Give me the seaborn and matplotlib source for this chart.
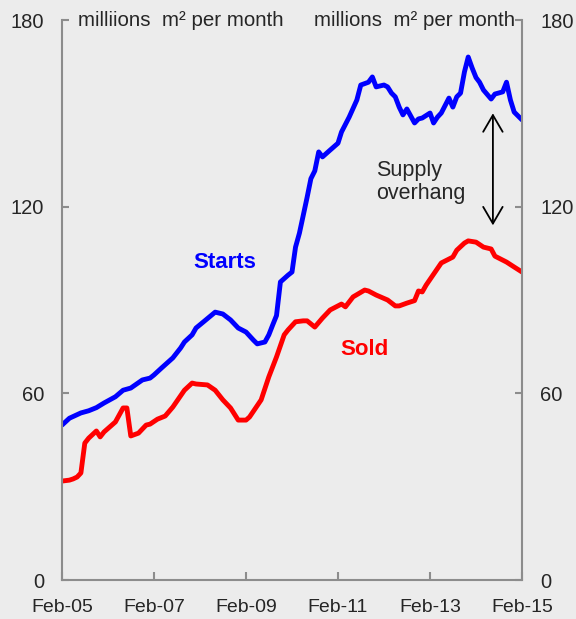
import pandas as pd
import matplotlib.pyplot as plt
import seaborn as sns

# Floor space: starts vs sold (millions m2 per month)
starts_dates = ["2005-02", "2005-04", "2005-07", "2005-09", "2005-11", "2006-01", "2006-04",
                "2006-06", "2006-08", "2006-11", "2007-01", "2007-02", "2007-04", "2007-07",
                "2007-09", "2007-10", "2007-12", "2008-01", "2008-03", "2008-06", "2008-08",
                "2008-10", "2008-12", "2009-02", "2009-04", "2009-05", "2009-07", "2009-08",
                "2009-09", "2009-10", "2009-11", "2010-01", "2010-02", "2010-03", "2010-04",
                "2010-06", "2010-07", "2010-08", "2010-09", "2010-10", "2010-12", "2011-02",
                "2011-03", "2011-05", "2011-07", "2011-08", "2011-10", "2011-11", "2011-12",
                "2012-02", "2012-03", "2012-04", "2012-05", "2012-06", "2012-07", "2012-08",
                "2012-10", "2012-11", "2012-12", "2013-02", "2013-03", "2013-04", "2013-05",
                "2013-07", "2013-08", "2013-09", "2013-10", "2013-11", "2013-12", "2014-01",
                "2014-02", "2014-03", "2014-04", "2014-06", "2014-07", "2014-09", "2014-10",
                "2014-11", "2014-12", "2015-02"]
starts = [49.8, 52, 53.7, 54.4, 55.4, 56.9, 58.9,
          61, 61.7, 64.3, 64.9, 65.9, 68.1, 71.4,
          74.6, 76.5, 78.8, 81, 83, 86.1, 85.5,
          83.6, 81, 79.7, 77.1, 75.9, 76.5, 78.8,
          82, 85, 95.8, 98, 99, 107, 111.5,
          123, 129, 131.5, 137.6, 136, 138.2, 140.4,
          144, 148.8, 154.3, 159.1, 160, 161.7, 158.5,
          159.1, 158.5, 156.5, 155.3, 152, 149.5, 151.4,
          146.9, 148.2, 148.5, 150.1, 146.9, 148.8, 150.1,
          154.9, 152, 155.3, 156.5, 163.3, 168.1, 164.6,
          161.5, 160, 157.5, 154.6, 156.2, 156.9, 160,
          154.3, 150.4, 147.9]

sold_dates = ["2005-02", "2005-04", "2005-05", "2005-06", "2005-07", "2005-08", "2005-09",
              "2005-11", "2005-12", "2006-01", "2006-04", "2006-06", "2006-07", "2006-08",
              "2006-10", "2006-12", "2007-01", "2007-03", "2007-05", "2007-07", "2007-10",
              "2007-12", "2008-01", "2008-04", "2008-06", "2008-08", "2008-10", "2008-12",
              "2009-02", "2009-03", "2009-06", "2009-08", "2009-10", "2009-12", "2010-01",
              "2010-03", "2010-05", "2010-06", "2010-08", "2010-10", "2010-12", "2011-03",
              "2011-04", "2011-06", "2011-09", "2011-10", "2011-12", "2012-03", "2012-05",
              "2012-06", "2012-08", "2012-10", "2012-11", "2012-12", "2013-01", "2013-05",
              "2013-08", "2013-09", "2013-11", "2013-12", "2014-02", "2014-04", "2014-06",
              "2014-07", "2014-10", "2014-12", "2015-02"]
sold = [31.8, 32.1, 32.5, 33.1, 34.4, 44, 45.6,
        47.9, 46, 47.6, 50.8, 55.3, 55.3, 46.3,
        47.2, 49.8, 50.1, 51.7, 52.7, 55.6, 61,
        63.3, 63, 62.7, 61, 57.9, 55.3, 51.4,
        51.4, 52.4, 57.9, 65.3, 71.7, 78.8, 80.4,
        83, 83.3, 83.3, 81.3, 84.2, 86.8, 88.7,
        87.8, 91, 93.2, 92.9, 91.6, 90, 88.1,
        88.1, 89, 89.8, 92.9, 92.6, 94.8, 101.9,
        103.8, 106, 108.3, 109, 108.6, 107, 106.4,
        104.1, 102.2, 100.6, 99]

tick_dates = ["2005-02", "2007-02", "2009-02", "2011-02", "2013-02", "2015-02"]
tick_labels = ["Feb-05", "Feb-07", "Feb-09", "Feb-11", "Feb-13", "Feb-15"]
y_ticks = [0, 60, 120, 180]

df_starts = pd.DataFrame({"date": pd.to_datetime(starts_dates), "value": starts})
df_sold = pd.DataFrame({"date": pd.to_datetime(sold_dates), "value": sold})

bg = "#ececec"
grey = "#8c8c8c"
sns.set_style("ticks")
plt.rcParams["font.family"] = ["Liberation Sans", "DejaVu Sans"]

fig = plt.figure(figsize=(5.76, 6.19), dpi=100, facecolor=bg)
ax = fig.add_axes([62 / 576, 1 - 580 / 619, 460 / 576, 560 / 619])
ax.set_facecolor(bg)

sns.lineplot(data=df_starts, x="date", y="value", color="#0000ff", lw=3.5, ax=ax)
sns.lineplot(data=df_sold, x="date", y="value", color="#ff0000", lw=3.5, ax=ax)

ax.set_xlim(pd.Timestamp("2005-02-01"), pd.Timestamp("2015-02-01"))
ax.set_ylim(0, 180)
ax.set_xticks(pd.to_datetime(tick_dates))
ax.set_xticklabels(tick_labels)
ax.set_yticks(y_ticks)
ax.set_xlabel("")
ax.set_ylabel("")

for side in ["left", "right", "bottom"]:
    ax.spines[side].set_color(grey)
    ax.spines[side].set_linewidth(1.5)
ax.spines["top"].set_visible(False)

ax.tick_params(axis="y", direction="in", length=5, width=1.5, color=grey,
               labelsize=14.5, pad=13, left=True, right=True, labelleft=True, labelright=True)
ax.tick_params(axis="x", direction="in", length=6, width=1.5, color=grey,
               labelsize=14, pad=14)

ax.text(0.035, 1.0, "milliions  m² per month", transform=ax.transAxes,
        fontsize=14.8, ha="left", va="center")
ax.text(0.985, 1.0, "millions  m² per month", transform=ax.transAxes,
        fontsize=14.8, ha="right", va="center")

ax.text(pd.Timestamp("2008-08-15"), 102, "Starts", color="#0000ff", fontsize=16,
        fontweight="bold", ha="center", va="center")
ax.text(pd.Timestamp("2011-09-01"), 74, "Sold", color="#ff0000", fontsize=16,
        fontweight="bold", ha="center", va="center")
ax.text(pd.Timestamp("2011-12-01"), 128, "Supply\noverhang", fontsize=15.5,
        ha="left", va="center", linespacing=1.1)
ax.annotate("", xy=(pd.Timestamp("2014-06-15"), 150), xytext=(pd.Timestamp("2014-06-15"), 114),
            arrowprops=dict(arrowstyle="<->,head_length=1.2,head_width=0.7",
                            color="black", lw=1.3, mutation_scale=10,
                            shrinkA=0, shrinkB=0))

fig.savefig("out.png", dpi=100, facecolor=bg)
